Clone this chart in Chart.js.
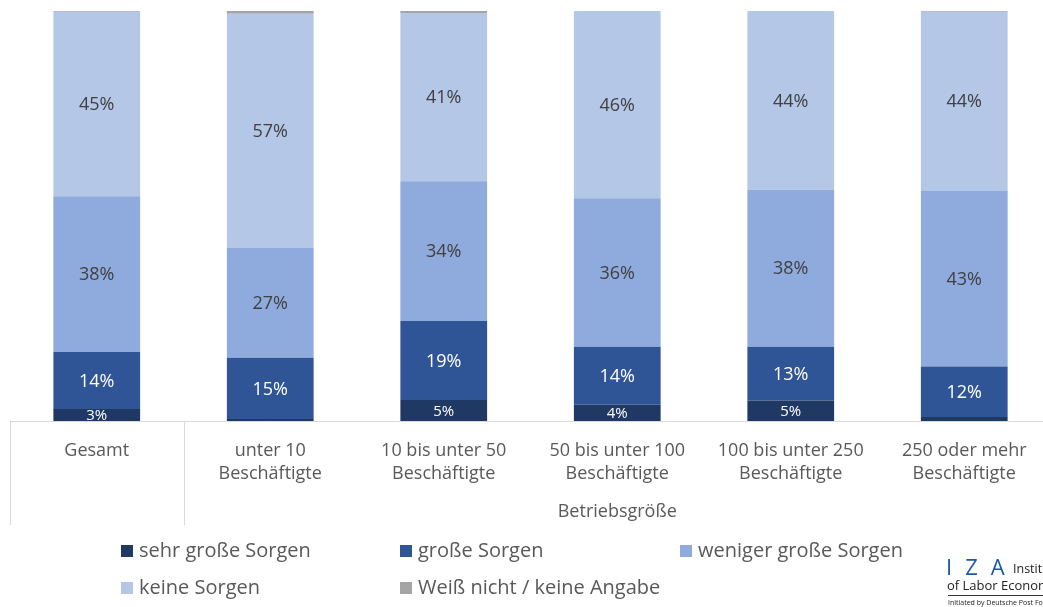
<!DOCTYPE html>
<html>
<head>
<meta charset="utf-8">
<script src="https://cdn.jsdelivr.net/npm/chart.js@4/dist/chart.umd.min.js"></script>
<style>
  body { margin: 0; background: #fff; overflow: hidden; }
  #wrap { position: relative; width: 1043px; height: 607px; overflow: hidden; }
  #box { position: absolute; left: 0; top: 0; width: 1051px; height: 607px; }
  .iza { position: absolute; font-family: "Open Sans", sans-serif; white-space: nowrap; color: #222; }
</style>
</head>
<body>
<div id="wrap">
  <div id="box"><canvas id="sorgenChart"></canvas></div>
  <div class="iza" style="left:946px;top:551px;font-size:22px;color:#1a5aa6;letter-spacing:13px;">IZA</div>
  <div class="iza" style="left:1013px;top:560px;font-size:12.5px;">Institute</div>
  <div class="iza" style="left:947px;top:576px;font-size:13px;">of Labor Economics</div>
  <div style="position:absolute;left:948px;top:595px;width:100px;height:1px;background:#333;"></div>
  <div class="iza" style="left:948px;top:598px;font-size:7px;">Initiated by Deutsche Post Foundation</div>
</div>
<script>
// categories (x axis)
const categories = [
  ['Gesamt'],
  ['unter 10', 'Beschäftigte'],
  ['10 bis unter 50', 'Beschäftigte'],
  ['50 bis unter 100', 'Beschäftigte'],
  ['100 bis unter 250', 'Beschäftigte'],
  ['250 oder mehr', 'Beschäftigte']
];
const groupLabel = 'Betriebsgröße';

// shares in percent, bottom to top
const sehrGrosseSorgen = [2.9, 0.5, 5.1, 4.0, 5.0, 1.0];
const grosseSorgen = [13.9, 14.9, 19.3, 14.1, 13.1, 12.3];
const wenigerGrosseSorgen = [38.0, 26.8, 34.1, 36.2, 38.3, 42.9];
const keineSorgen = [45.0, 57.1, 41.0, 45.7, 43.6, 43.6];
const weissNicht = [0.2, 0.7, 0.5, 0.0, 0.0, 0.2];

const seriesNames = ['sehr große Sorgen', 'große Sorgen', 'weniger große Sorgen', 'keine Sorgen', 'Weiß nicht / keine Angabe'];
const colors = ['#203864', '#2f5597', '#8faadc', '#b4c7e7', '#a5a5a5'];
const labelColors = ['#ffffff', '#ffffff', '#404040', '#404040', '#404040'];

const FONT = '"Open Sans", sans-serif';
const LINE = '#d9d9d9';

// percentage labels inside the segments
const segmentLabels = {
  id: 'segmentLabels',
  afterDatasetsDraw(chart) {
    const ctx = chart.ctx;
    const area = chart.chartArea;
    ctx.save();
    ctx.beginPath();
    ctx.rect(area.left, area.top, area.right - area.left, area.bottom - area.top);
    ctx.clip();
    ctx.textAlign = 'center';
    ctx.textBaseline = 'middle';
    chart.data.datasets.forEach((ds, i) => {
      const meta = chart.getDatasetMeta(i);
      meta.data.forEach((bar, j) => {
        const v = ds.data[j];
        if (v < 2) return;
        ctx.fillStyle = labelColors[i];
        ctx.font = (i === 0 ? '15px ' : '18px ') + FONT;
        ctx.fillText(Math.round(v) + '%', bar.x, (bar.y + bar.base) / 2 + 1);
      });
    });
    ctx.restore();
  }
};

// separators, group label and legend
const extras = {
  id: 'extras',
  afterDraw(chart) {
    const ctx = chart.ctx;
    const x = chart.scales.x;
    const area = chart.chartArea;
    const step = (x.right - x.left) / categories.length;
    ctx.save();
    ctx.strokeStyle = LINE;
    ctx.lineWidth = 1;
    [x.left, x.left + step].forEach(px => {
      ctx.beginPath();
      ctx.moveTo(Math.round(px) + 0.5, area.bottom);
      ctx.lineTo(Math.round(px) + 0.5, 525);
      ctx.stroke();
    });
    ctx.fillStyle = '#595959';
    ctx.font = '18px ' + FONT;
    ctx.textAlign = 'center';
    ctx.textBaseline = 'middle';
    ctx.fillText(groupLabel, (x.left + step + x.right) / 2, 512);

    // legend
    const cols = [121, 400, 680];
    const rows = [551, 588];
    ctx.textAlign = 'left';
    ctx.font = '20px ' + FONT;
    chart.data.datasets.forEach((ds, i) => {
      const cx = cols[i % 3];
      const cy = rows[Math.floor(i / 3)];
      ctx.fillStyle = ds.backgroundColor;
      ctx.fillRect(cx, cy - 6, 12, 12);
      ctx.fillStyle = '#595959';
      ctx.fillText(ds.label, cx + 18, cy);
    });
    ctx.restore();
  }
};

const seriesData = [sehrGrosseSorgen, grosseSorgen, wenigerGrosseSorgen, keineSorgen, weissNicht];

new Chart(document.getElementById('sorgenChart').getContext('2d'), {
  type: 'bar',
  data: {
    labels: categories,
    datasets: seriesData.map((d, i) => ({
      label: seriesNames[i],
      data: d,
      backgroundColor: colors[i],
      borderWidth: 0,
      categoryPercentage: 1,
      barPercentage: 0.5
    }))
  },
  options: {
    responsive: true,
    maintainAspectRatio: false,
    animation: false,
    layout: { padding: { left: 10, top: 11, right: 0, bottom: 0 } },
    plugins: {
      legend: { display: false },
      tooltip: { enabled: false }
    },
    scales: {
      x: {
        stacked: true,
        grid: { display: false },
        border: { display: true, color: LINE, width: 1 },
        ticks: {
          color: '#595959',
          font: { family: FONT, size: 18, lineHeight: 1.28 },
          padding: 10,
          maxRotation: 0,
          autoSkip: false
        },
        afterFit(scale) { scale.height = 186; }
      },
      y: {
        stacked: true,
        display: false,
        min: 0,
        max: 100
      }
    }
  },
  plugins: [segmentLabels, extras]
});
</script>
</body>
</html>
